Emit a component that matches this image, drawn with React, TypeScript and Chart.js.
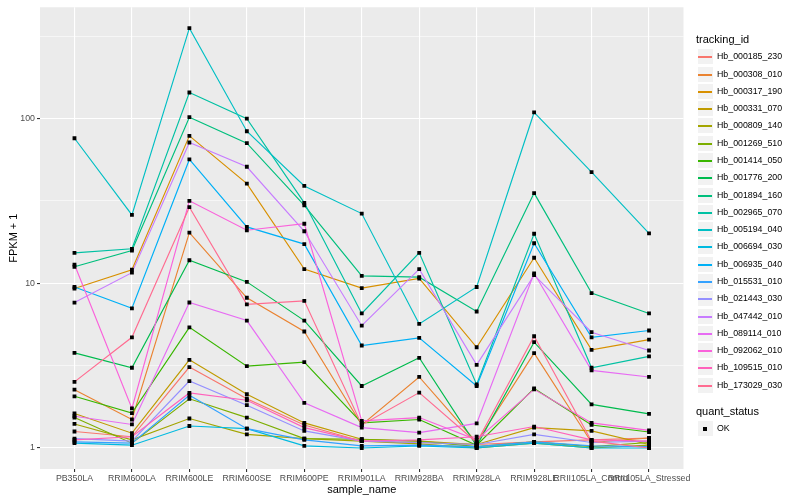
import React, { useEffect, useRef } from "react";
import { Chart, registerables } from "chart.js";
Chart.register(...registerables);

const categories = [
  "PB350LA", "RRIM600LA", "RRIM600LE", "RRIM600SE", "RRIM600PE", "RRIM901LA",
  "RRIM928BA", "RRIM928LA", "RRIM928LE", "RRII105LA_Control", "RRII105LA_Stressed",
];

const trackingIds = [
  "Hb_000185_230", "Hb_000308_010", "Hb_000317_190", "Hb_000331_070", "Hb_000809_140",
  "Hb_001269_510", "Hb_001414_050", "Hb_001776_200", "Hb_001894_160", "Hb_002965_070",
  "Hb_005194_040", "Hb_006694_030", "Hb_006935_040", "Hb_015531_010", "Hb_021443_030",
  "Hb_047442_010", "Hb_089114_010", "Hb_092062_010", "Hb_109515_010", "Hb_173029_030",
];

const seriesColors = [
  "#F8766D", "#EA8331", "#D89000", "#C09B00", "#A3A500", "#7CAE00", "#39B600", "#00BB4E",
  "#00BF7D", "#00C1A3", "#00BFC4", "#00BAE0", "#00B0F6", "#35A2FF", "#9590FF", "#C77CFF",
  "#E76BF3", "#FA62DB", "#FF62BC", "#FF6C91",
];

const hb000185_230 = [1.26, 1.17, 3.1, 1.99, 1.38, 1.1, 1.08, 1.05, 1.09, 1.12, 1.15];
const hb000308_010 = [2.26, 1.49, 20.3, 8.17, 5.1, 1.38, 2.7, 1.08, 3.77, 1.08, 1.15];
const hb000317_190 = [9.3, 12.1, 78.6, 40.3, 12.2, 9.36, 10.7, 4.09, 14.3, 3.94, 4.55];
const hb000331_070 = [1.62, 1.23, 3.43, 2.12, 1.42, 1.13, 1.1, 1.05, 1.33, 1.27, 1.05];
const hb000809_140 = [1.4, 1.12, 1.51, 1.21, 1.14, 1.1, 1.06, 1.0, 1.07, 1.0, 1.04];
const hb001269_510 = [1.53, 1.07, 1.99, 1.53, 1.14, 1.13, 1.1, 1.02, 1.09, 1.02, 1.08];
const hb001414_050 = [2.06, 1.63, 5.4, 3.14, 3.32, 1.42, 1.49, 1.04, 2.3, 1.38, 1.25];
const hb001776_200 = [3.78, 3.07, 13.8, 10.2, 5.94, 2.38, 3.53, 1.03, 4.39, 1.84, 1.61];
const hb001894_160 = [12.6, 15.8, 102, 71, 29.7, 11.1, 10.9, 6.74, 35.3, 8.72, 6.56];
const hb002965_070 = [15.3, 16.2, 144, 100, 30.8, 6.56, 15.3, 2.43, 20.0, 3.07, 3.6];
const hb005194_040 = [76, 26, 354, 83.8, 39, 26.5, 5.67, 9.5, 109, 47.3, 20.1];
const hb006694_030 = [1.07, 1.04, 1.36, 1.31, 1.03, 1.0, 1.03, 1.0, 1.07, 1.0, 1.0];
const hb006935_040 = [9.5, 7.05, 56.5, 22, 17.3, 4.19, 4.66, 2.38, 17.5, 4.7, 5.17];
const hb015531_010 = [1.09, 1.07, 2.09, 1.31, 1.12, 1.03, 1.04, 1.02, 1.09, 1.03, 1.02];
const hb021443_030 = [1.14, 1.1, 2.55, 1.82, 1.27, 1.1, 1.08, 1.05, 1.21, 1.08, 1.1];
const hb047442_010 = [7.64, 11.6, 71.6, 51, 20.7, 5.53, 12.2, 3.2, 11.2, 5.05, 3.91];
const hb089114_010 = [1.56, 1.39, 7.65, 5.94, 1.88, 1.33, 1.24, 1.41, 11.5, 2.96, 2.7];
const hb092062_010 = [13, 1.74, 31.7, 21, 23, 1.46, 1.53, 1.12, 2.27, 1.42, 1.28];
const hb109515_010 = [1.12, 1.17, 2.16, 1.95, 1.33, 1.1, 1.12, 1.17, 1.35, 1.12, 1.1];
const hb173029_030 = [2.52, 4.7, 29, 7.45, 7.83, 1.38, 2.17, 1.08, 4.77, 1.1, 1.0];

const seriesValues = [
  hb000185_230, hb000308_010, hb000317_190, hb000331_070, hb000809_140,
  hb001269_510, hb001414_050, hb001776_200, hb001894_160, hb002965_070,
  hb005194_040, hb006694_030, hb006935_040, hb015531_010, hb021443_030,
  hb047442_010, hb089114_010, hb092062_010, hb109515_010, hb173029_030,
];

const yTicks = [1, 10, 100];
const yTickLabels = ["1", "10", "100"];
const yMinorTicks = [Math.sqrt(10), Math.sqrt(1000), Math.sqrt(100000)];
const quantStatus = ["OK"];

const FONT = "'Liberation Sans', Arial, Helvetica, sans-serif";

const isMajor = (v: number) => yTicks.some((t) => Math.abs(t - v) / t < 1e-6);

const panelBg = {
  id: "panelBg",
  beforeDraw(chart: any) {
    const { ctx, chartArea: a } = chart;
    ctx.save();
    ctx.fillStyle = "#EBEBEB";
    ctx.fillRect(a.left, a.top, a.right - a.left, a.bottom - a.top);
    ctx.restore();
  },
};

export default function App() {
  const ref = useRef<HTMLCanvasElement | null>(null);

  useEffect(() => {
    if (!ref.current) return;
    const lineSets = seriesValues.map((vals, i) => ({
      type: "line" as const,
      label: trackingIds[i],
      data: vals.map((v, j) => ({ x: j, y: v })),
      borderColor: seriesColors[i],
      backgroundColor: seriesColors[i],
      borderWidth: 1.15,
      pointRadius: 0,
      tension: 0,
      fill: false,
      order: 20 - i,
    }));
    const pointSet = {
      type: "line" as const,
      label: "quant_status",
      data: seriesValues.flatMap((vals) => vals.map((v, j) => ({ x: j, y: v }))),
      showLine: false,
      pointStyle: "rect",
      pointRadius: 2.7,
      pointBorderWidth: 0,
      pointBackgroundColor: "#000000",
      borderColor: "#000000",
      order: 0,
    };
    const chart = new Chart(ref.current, {
      type: "line",
      data: { datasets: [...lineSets, pointSet] as any },
      plugins: [panelBg],
      options: {
        animation: false,
        responsive: false,
        events: [],
        layout: { padding: { top: 5, right: 116.5, left: 0, bottom: 0 } },
        plugins: { legend: { display: false }, tooltip: { enabled: false } },
        scales: {
          x: {
            type: "linear",
            bounds: "data",
            min: -0.6,
            max: 10.6,
            afterBuildTicks: (scale: any) => {
              scale.ticks = categories.map((_, i) => ({ value: i }));
            },
            afterFit: (scale: any) => {
              scale.height = 31;
            },
            ticks: {
              autoSkip: false,
              maxRotation: 0,
              minRotation: 0,
              padding: 1,
              color: "#4D4D4D",
              font: { family: FONT, size: 8.8 },
              callback: (v: any) => categories[Math.round(Number(v))] ?? "",
            },
            grid: {
              color: "#FFFFFF",
              lineWidth: 1.1,
              tickColor: "#333333",
              tickLength: 3,
              drawTicks: true,
            },
            border: { display: false },
            title: {
              display: true,
              text: "sample_name",
              color: "#000000",
              font: { family: FONT, size: 11 },
              padding: { top: 0, bottom: 3.5 },
            },
          },
          y: {
            type: "logarithmic",
            bounds: "data",
            min: Math.pow(10, -0.1275),
            max: Math.pow(10, 2.676),
            afterBuildTicks: (scale: any) => {
              const all = [...yTicks, ...yMinorTicks].sort((a, b) => a - b);
              scale.ticks = all.map((v) => ({ value: v }));
            },
            afterFit: (scale: any) => {
              scale.width = 40;
            },
            ticks: {
              padding: 2,
              color: "#4D4D4D",
              font: { family: FONT, size: 8.8 },
              callback: (v: any) => {
                const idx = yTicks.findIndex((t) => Math.abs(t - Number(v)) / t < 1e-6);
                return idx >= 0 ? yTickLabels[idx] : "";
              },
            },
            grid: {
              color: "#FFFFFF",
              lineWidth: (ctx: any) => (ctx.tick && isMajor(ctx.tick.value) ? 1.1 : 0.55),
              tickColor: (ctx: any) =>
                ctx.tick && isMajor(ctx.tick.value) ? "#333333" : "rgba(0,0,0,0)",
              tickLength: 3,
              drawTicks: true,
            },
            border: { display: false },
            title: {
              display: true,
              text: "FPKM + 1",
              color: "#000000",
              font: { family: FONT, size: 11 },
              padding: { top: 7, bottom: 0 },
            },
          },
        },
      } as any,
    });
    return () => chart.destroy();
  }, []);

  const keyTop0 = 48.3;
  const keyH = 17.28;
  const statusTitleY = Math.round(keyTop0 + trackingIds.length * keyH + 11);

  return (
    <div
      style={{
        position: "absolute",
        left: 0,
        top: 0,
        width: 800,
        height: 500,
        background: "#FFFFFF",
        fontFamily: FONT,
        overflow: "hidden",
      }}
    >
      <canvas ref={ref} width={800} height={500} style={{ position: "absolute", left: 0, top: 0, width: 800, height: 500 }} />
      <div style={{ position: "absolute", left: 696, top: 33, fontSize: 11, lineHeight: "13px", color: "#000" }}>
        tracking_id
      </div>
      {trackingIds.map((id, i) => {
        const top = Math.round(keyTop0 + i * keyH);
        const mid = top + 8;
        return (
          <React.Fragment key={id}>
            <div
              style={{
                position: "absolute",
                left: 697,
                top: top,
                width: 17,
                height: 17,
                background: "#F2F2F2",
                boxSizing: "border-box",
                border: "1px solid #FFFFFF",
              }}
            />
            <div
              style={{
                position: "absolute",
                left: 698,
                top: mid,
                width: 14,
                height: 1.5,
                background: seriesColors[i],
              }}
            />
            <div
              style={{
                position: "absolute",
                left: 717,
                top: mid - 5,
                fontSize: 8.8,
                lineHeight: "11px",
                color: "#000",
                whiteSpace: "nowrap",
              }}
            >
              {id}
            </div>
          </React.Fragment>
        );
      })}
      <div style={{ position: "absolute", left: 696, top: statusTitleY, fontSize: 11, lineHeight: "13px", color: "#000" }}>
        quant_status
      </div>
      {quantStatus.map((q, i) => {
        const top = statusTitleY + 15 + i * 17;
        const mid = top + 8;
        return (
          <React.Fragment key={q}>
            <div
              style={{
                position: "absolute",
                left: 697,
                top: top,
                width: 17,
                height: 17,
                background: "#F2F2F2",
                boxSizing: "border-box",
                border: "1px solid #FFFFFF",
              }}
            />
            <div
              style={{
                position: "absolute",
                left: 703,
                top: mid - 1.5,
                width: 4,
                height: 4,
                background: "#000",
              }}
            />
            <div
              style={{
                position: "absolute",
                left: 717,
                top: mid - 5,
                fontSize: 8.8,
                lineHeight: "11px",
                color: "#000",
              }}
            >
              {q}
            </div>
          </React.Fragment>
        );
      })}
    </div>
  );
}
